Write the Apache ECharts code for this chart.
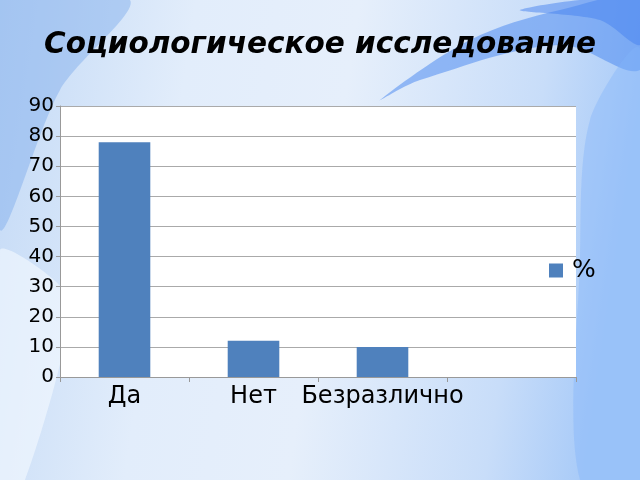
<!DOCTYPE html>
<html><head><meta charset="utf-8">
<script src="https://cdn.jsdelivr.net/npm/echarts@6/dist/echarts.min.js"></script>
<style>html,body{margin:0;padding:0;}#c{width:640px;height:480px;}</style>
</head><body><div id="c"></div>
<script>
const categories = ['Да', 'Нет', 'Безразлично', ''];
const percentValues = [78, 12, 10, null];
const seriesName = '%';
const titleText = 'Социологическое исследование';

const chart = echarts.init(document.getElementById('c'));
chart.setOption({
  backgroundColor: {
    type: 'linear', x: 0, y: 0, x2: 1, y2: 0.2,
    colorStops: [
      {offset: 0, color: '#c4daf6'},
      {offset: 0.3, color: '#e2edfb'},
      {offset: 0.55, color: '#e6effb'},
      {offset: 0.85, color: '#c8ddf9'},
      {offset: 1, color: '#a9cbf8'}
    ]
  },
  graphic: [
    {type: 'polygon', z: -10, silent: true, shape: {points: [[0,0],[130,0],[60,90],[0,230]], smooth: 0.3}, style: {fill: 'rgba(125,170,235,0.45)'}},
    {type: 'polygon', z: -10, silent: true, shape: {points: [[0,250],[0,480],[25,480],[70,300]], smooth: 0.2}, style: {fill: 'rgba(245,250,255,0.6)'}},
    {type: 'polygon', z: -10, silent: true, shape: {points: [[640,0],[640,70],[560,45],[420,80],[380,100],[470,40],[560,10]], smooth: 0.35}, style: {fill: 'rgba(80,140,240,0.55)'}},
    {type: 'polygon', z: -10, silent: true, shape: {points: [[640,0],[640,45],[600,20],[520,10]], smooth: 0.3}, style: {fill: 'rgba(70,130,240,0.5)'}},
    {type: 'polygon', z: -10, silent: true, shape: {points: [[640,50],[590,120],[580,260],[580,480],[640,480]], smooth: 0.3}, style: {fill: 'rgba(130,180,250,0.4)'}}
  ],
  title: {
    text: titleText, left: 'center', top: 25,
    textStyle: {fontFamily: 'DejaVu Sans', fontSize: 29.5, fontWeight: 'bold', fontStyle: 'italic', color: '#000'}
  },
  legend: {
    data: [seriesName], left: 544, top: 253, orient: 'vertical',
    itemWidth: 14, itemHeight: 14,
    icon: 'rect',
    textStyle: {fontFamily: 'DejaVu Sans', fontSize: 25, color: '#000', padding: [0,0,0,4]}
  },
  grid: {left: 60, right: 64, top: 106, bottom: 103, backgroundColor: '#fff', show: true, borderWidth: 0},
  xAxis: {
    type: 'category', data: categories,
    axisLine: {show: true, lineStyle: {color: '#999', width: 1}},
    axisTick: {show: true, alignWithLabel: false, length: 5, lineStyle: {color: '#999'}},
    axisLabel: {fontFamily: 'DejaVu Sans', fontSize: 24, color: '#000', margin: 8, interval: 0}
  },
  yAxis: {
    type: 'value', min: 0, max: 90, interval: 10,
    axisLine: {show: true, lineStyle: {color: '#999', width: 1}},
    axisTick: {show: true, length: 4, lineStyle: {color: '#999'}},
    splitLine: {lineStyle: {color: '#aaa', width: 1}},
    axisLabel: {fontFamily: 'DejaVu Sans', fontSize: 20, color: '#000', margin: 6}
  },
  series: [{
    name: seriesName, type: 'bar', data: percentValues, barWidth: '40%',
    itemStyle: {color: '#4f81bd'}
  }]
});
</script></body></html>
